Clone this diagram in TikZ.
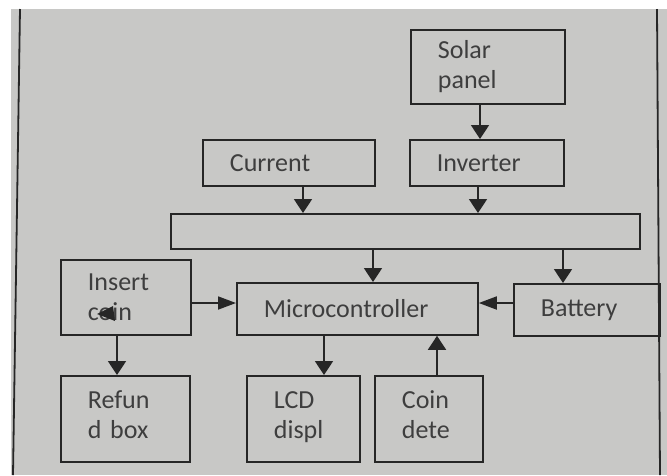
\documentclass[tikz,border=0pt]{standalone}
\usepackage{fontspec}
\setmainfont{Carlito}
\usetikzlibrary{arrows.meta}
\definecolor{paper}{RGB}{200,200,198}
\definecolor{ink}{RGB}{38,38,38}
\definecolor{txt}{RGB}{62,62,62}
\tikzset{
  blk/.style={draw=ink, line width=1.8pt, anchor=north west, inner xsep=27pt, inner ysep=2pt,
    align=left, text=txt, font=\fontsize{26}{30}\selectfont},
  low/.style={text depth=38pt},
  varr/.style={draw=ink, line width=1.8pt, -{Triangle[length=14pt,width=18pt]}},
  harr/.style={draw=ink, line width=1.8pt, -{Triangle[length=18pt,width=13pt]}},
  frame/.style={draw=ink, line width=1.8pt}
}
\begin{document}
\begin{tikzpicture}[x=1pt,y=-1pt]
\useasboundingbox (0,0) rectangle (667,475);
\fill[white] (0,0) rectangle (667,475);
\fill[paper] (11,9) rectangle (667,475);
\draw[frame] (20,9) -- (13,475);
\draw[frame] (657,9) -- (660,475);

\node[blk, minimum width=154pt, minimum height=74pt, text width=100pt] (sol) at (410,29) {Solar\\panel};
\node[blk, minimum width=172pt, minimum height=46pt, text width=118pt] (cur) at (202,139) {Current};
\node[blk, minimum width=154pt, minimum height=46pt, text width=100pt] (inv) at (409,139) {Inverter};
\node[blk, minimum width=469pt, minimum height=35pt] (bus) at (170,213) {};
\node[blk, minimum width=130pt, minimum height=75pt, text width=76pt] (ins) at (60,259) {Insert\\coin};
\node[blk, minimum width=241pt, minimum height=52pt, text width=187pt] (mc) at (236,282) {Microcontroller};
\node[blk, minimum width=146pt, minimum height=52pt, text width=92pt] (bat) at (513,283) {Battery};
\node[blk, low, minimum width=129pt, minimum height=86pt, text width=75pt] (ref) at (60,375) {Refun\\d box};
\node[blk, low, minimum width=113pt, minimum height=86pt, text width=59pt] (lcd) at (246,375) {LCD\\displ};
\node[blk, low, minimum width=108pt, minimum height=86pt, text width=54pt] (coin) at (374,375) {Coin\\dete};

\fill[ink] (97,314) -- (113,306) -- (115,321) -- cycle;

\draw[varr] (sol.south -| 480,0) -- (inv.north -| 480,0);
\draw[varr] (cur.south -| 303,0) -- (bus.north -| 303,0);
\draw[varr] (inv.south -| 478,0) -- (bus.north -| 478,0);
\draw[varr] (bus.south -| 373,0) -- (mc.north -| 373,0);
\draw[varr] (bus.south -| 563,0) -- (bat.north -| 563,0);
\draw[harr] (ins.east |- 0,303) -- (mc.west |- 0,303);
\draw[harr] (bat.west |- 0,303) -- (mc.east |- 0,303);
\draw[varr] (ins.south -| 117,0) -- (ref.north -| 117,0);
\draw[varr] (mc.south -| 324,0) -- (lcd.north -| 324,0);
\draw[varr] (coin.north -| 437,0) -- (mc.south -| 437,0);
\end{tikzpicture}
\end{document}
